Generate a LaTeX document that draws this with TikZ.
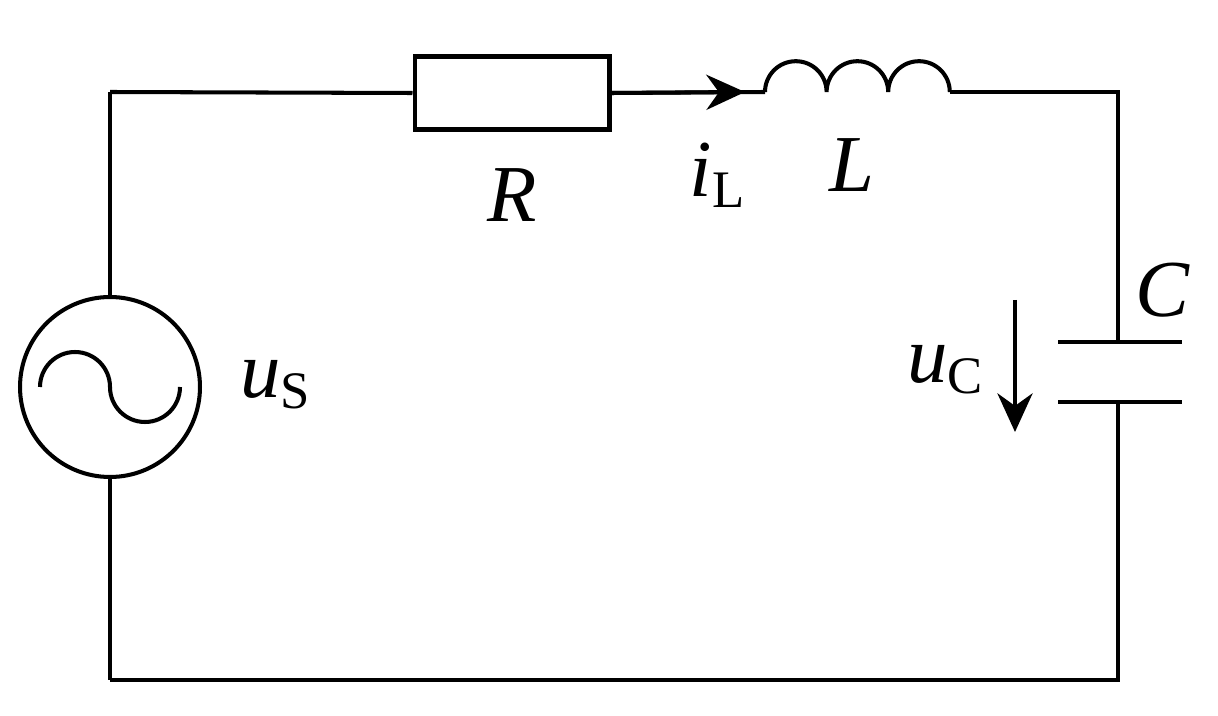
\documentclass[tikz,border=0pt]{standalone}
\usepackage{fontspec}
\setmainfont{Liberation Serif}
\usetikzlibrary{arrows.meta, positioning}
\newcommand{\sbx}[1]{\raisebox{-0.3ex}{\fontsize{30}{34}\selectfont #1}}
\tikzset{
  wire/.style={line width=2.3pt},
  lbl/.style={font=\fontsize{46}{52}\selectfont\itshape, inner sep=0pt}
}
\begin{document}
\begin{tikzpicture}[x=0.02cm, y=-0.02cm]
  \useasboundingbox (0,0) rectangle (1218,716);

  % Corners
  \coordinate (tl) at (110,92);
  \coordinate (tr) at (1118,92);
  \coordinate (bl) at (110,680);
  \coordinate (br) at (1118,680);

  % Source
  \node[wire, draw, circle, minimum size=3.6cm, inner sep=0pt] (src) at (110,387) {};
  \draw[wire] (src.north) -- (tl);
  \draw[wire] (src.south) -- (bl);
  \draw[wire] (40,387) arc[start angle=180, end angle=360, radius=35]
                       arc[start angle=180, end angle=0, radius=35];
  \node[lbl] (us) at (275,385) {u\upshape\sbx{S}};

  % Resistor
  \node[wire, draw, minimum width=3.9cm, minimum height=1.46cm, inner sep=0pt] (res) at (512,93) {};
  \draw[wire] (tl) -- (res.west);
  \node[lbl] (rl) at (512,195) {R};

  % Inductor
  \coordinate (la) at (765,92);
  \coordinate (lb) at (950,92);
  \draw[wire] (res.east) -- (la);
  \draw[-{Stealth[length=22pt, width=20pt]}, wire] (res.east) -- (745,92);
  \draw[wire] (la) arc[start angle=180, end angle=360, radius=30.8]
                   arc[start angle=180, end angle=360, radius=30.8]
                   arc[start angle=180, end angle=360, radius=30.8];
  \node[lbl] (il) at (717,175) {i\upshape\sbx{L}};
  \node[lbl] (ll) at (852,165) {L};

  % Capacitor
  \coordinate (ca) at (1118,342);
  \coordinate (cb) at (1118,402);
  \draw[wire] (lb) -- (tr) -- (ca);
  \draw[wire] (1058,342) -- (1182,342);
  \draw[wire] (1058,402) -- (1182,402);
  \draw[wire] (cb) -- (br) -- (bl);
  \node[lbl] (cl) at (1162,290) {C};
  \node[lbl] (uc) at (945,370) {u\upshape\sbx{C}};
  \coordinate (ua) at (1015,300);
  \coordinate (ub) at (1015,432);
  \draw[wire, -{Stealth[length=22pt, width=20pt]}] (ua) -- (ub);
\end{tikzpicture}
\end{document}
